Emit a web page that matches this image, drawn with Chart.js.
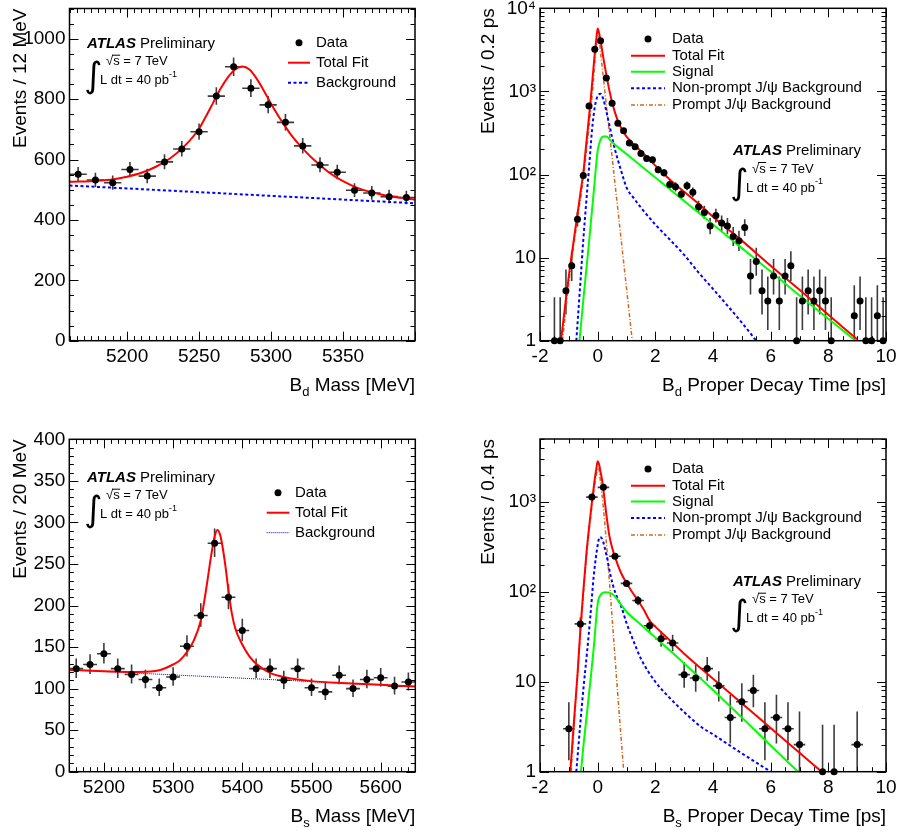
<!DOCTYPE html>
<html lang="en">
<head>
<meta charset="UTF-8">
<title>B meson mass and proper decay time fits</title>
<script src="https://cdn.jsdelivr.net/npm/chart.js@4"></script>
<style>
  html, body { margin: 0; padding: 0; background: #fff; }
  .page { position: relative; width: 900px; height: 834px; overflow: hidden; }
  .page canvas { position: absolute; }
</style>
</head>
<body>
<div class="page">
  <canvas id="bdMass" width="450" height="417" style="left:0;top:0"></canvas>
  <canvas id="bdTime" width="450" height="417" style="left:450px;top:0"></canvas>
  <canvas id="bsMass" width="450" height="417" style="left:0;top:417px"></canvas>
  <canvas id="bsTime" width="450" height="417" style="left:450px;top:417px"></canvas>
</div>
<script>
// ---- B_d mass, 12 MeV bins ----
const bdMassX = [5166,5178,5190,5202,5214,5226,5238,5250,5262,5274,5286,5298,5310,5322,5334,5346,5358,5370,5382,5394];
const bdMassN = [551,532,523,567,545,592,635,692,810,907,836,781,723,645,582,558,498,489,477,474];
const bdMassFitX = [5160,5180,5190,5200,5210,5220,5230,5240,5250,5255,5260,5265,5270,5275,5280,5285,5290,5295,5300,5305,5310,5315,5320,5330,5340,5350,5360,5375,5390,5400];
const bdMassFitY = [526,530,534,543,556,576,604,645,702,745,790,835,872,898,908,898,868,828,785,745,708,675,647,598,558,528,506,486,473,467];
const bdMassBkgX = [5160,5400];
const bdMassBkgY = [514,455];
const bdMassXTicks = [5200,5250,5300,5350];
const bdMassYTicks = [0,200,400,600,800,1000];

// ---- B_d proper decay time, 0.2 ps bins ----
const bdTimeX = [-1.5,-1.3,-1.1,-0.9,-0.7,-0.5,-0.3,-0.1,0.1,0.3,0.5,0.7,0.9,1.1,1.3,1.5,1.7,1.9,2.1,2.3,2.5,2.7,2.9,3.1,3.3,3.5,3.7,3.9,4.1,4.3,4.5,4.7,4.9,5.1,5.3,5.5,5.7,5.9,6.1,6.3,6.5,6.7,6.9,7.1,7.3,7.5,7.7,7.9,8.1,8.9,9.1,9.3,9.5,9.7,9.9];
const bdTimeN = [1,1,4,8,29,97,665,3220,4080,1450,720,414,336,240,216,179,156,150,114,105,76,71,58,73,61,41,35,24,32,26,24,18,16,23,6,9,4,3,6,3,6,8,1,3,4,3,4,3,1,2,3,1,1,2,1];
const bdTotX = [-1.27,-1.1,-0.95,-0.85,-0.72,-0.6,-0.49,-0.4,-0.3,-0.255,-0.2,-0.15,-0.1,-0.05,0,0.05,0.1,0.2,0.3,0.4,0.5,0.6,0.75,1.0,1.25,1.5,2.0,2.5,3.0,3.5,4.0,5.0,6.0,7.0,8.0,9.0];
const bdTotY = [1,3.2,8.2,14.4,30,59,111,226,498,710,1167,1833,2877,4170,5730,5000,4100,2500,1600,1050,740,560,400,285,232,192,128,87,62,44.5,31,16,8.0,4.1,2.05,1.04];
const bdSigX = [-0.63,-0.49,-0.31,-0.14,0,0.1,0.2,0.3,0.5,1.0,2.0,3.0,4.0,5.0,6.0,7.0,8.0,9.0];
const bdSigY = [1,3.3,14,60,193,262,287,286,244,176,92,48,25,13,6.8,3.5,1.84,0.96];
const bdNpX = [-0.74,-0.6,-0.5,-0.4,-0.3,-0.2,-0.1,0,0.1,0.2,0.3,0.4,0.5,0.6,0.8,1.0,1.25,1.5,2.0,2.5,3.0,3.5,4.0,4.5,5.0,5.5];
const bdNpY = [1,5,16,45,120,330,650,880,935,800,580,400,280,200,115,70,52,40,25,16.5,10.8,6.6,4.2,2.65,1.65,1.0];
const bdPrX = [-1.22,-1.0,-0.75,-0.5,-0.3,-0.15,-0.1,0,0.04,0.1,0.2,0.3,0.4,0.5,0.6,0.7,0.8,0.9,1.0,1.1,1.2];
const bdPrY = [1,5,22,90,370,1300,2200,4500,4550,2950,1430,692,334,162,78,38,18.3,8.9,4.3,2.07,1];
const bdTimeYTicks = [1,10,100,1000,10000];

// ---- B_s mass, 20 MeV bins ----
const bsMassX = [5160,5180,5200,5220,5240,5260,5280,5300,5320,5340,5360,5380,5400,5420,5440,5460,5480,5500,5520,5540,5560,5580,5600,5620,5640];
const bsMassN = [124,129,142,124,117,111,101,114,151,188,275,210,170,124,124,110,124,101,96,116,100,111,113,103,108];
const bsMassFitX = [5150,5200,5250,5280,5300,5310,5320,5330,5340,5345,5350,5355,5360,5364,5368,5372,5376,5380,5385,5390,5400,5410,5420,5440,5460,5500,5550,5600,5650];
const bsMassFitY = [122.5,121,120,122,129,134,144,158,182,205,232,260,283,291,285,268,245,218,190,172,153,139,130,119,114,109,106.5,104.5,102.5];
const bsMassBkgX = [5150,5650];
const bsMassBkgY = [122.5,102.5];
const bsMassXTicks = [5200,5300,5400,5500,5600];
const bsMassYTicks = [0,50,100,150,200,250,300,350,400];

// ---- B_s proper decay time, 0.4 ps bins ----
const bsTimeX = [-1.0,-0.6,-0.2,0.2,0.6,1.0,1.4,1.8,2.2,2.6,3.0,3.4,3.8,4.2,4.6,5.0,5.4,5.8,6.2,6.6,7.0,7.8,8.2,9.0];
const bsTimeN = [3,44,1130,1450,249,124,80,42,30,27,12,11,14,9,4,6,8,3,4,3,2,1,1,2];
const bsTotX = [-0.95,-0.8,-0.7,-0.6,-0.5,-0.4,-0.3,-0.2,-0.137,-0.1,-0.05,0,0.05,0.1,0.15,0.2,0.3,0.4,0.5,0.6,0.8,1.0,1.2,1.4,1.6,1.8,2.0,2.5,3.0,4.0,5.0,6.0,7.0,7.77];
const bsTotY = [1,4.5,12,38,100,245,515,990,1450,1800,2300,2830,2600,2150,1774,1350,730,430,310,245,165,125,99,80,63,48,41,29,20.5,10.8,5.75,3.06,1.62,1];
const bsSigX = [-0.58,-0.49,-0.37,-0.25,-0.137,0,0.1,0.27,0.5,1.0,1.5,2.0,3.0,4.0,5.0,6.0,6.95];
const bsSigY = [1,2.0,4.5,10.4,23.7,74,92,99,95,60,43,31,16,8.1,4.0,1.96,1];
const bsNpX = [-0.74,-0.6,-0.5,-0.37,-0.25,-0.137,0,0.07,0.15,0.3,0.45,0.6,0.85,1.0,1.25,1.5,2.0,2.5,3.0,3.58,4.0,5.0,6.0];
const bsNpY = [1,3.5,8,21,55,149,330,405,390,260,150,100,64,45,28,18,10,6.6,4.6,3.16,2.6,1.6,1.0];
const bsPrX = [-0.92,-0.8,-0.6,-0.4,-0.2,-0.1,0,0.03,0.1,0.2,0.3,0.4,0.5,0.6,0.7,0.8,0.9];
const bsPrY = [1,4,33,225,887,1565,2350,2400,1650,850,360,140,52,19,7,2.7,1.05];
const bsTimeYTicks = [1,10,100,1000];

const timeXTicks = [-2,0,2,4,6,8,10];

const FONT = '"Liberation Sans", Arial, Helvetica, sans-serif';
Chart.defaults.font.family = FONT;
Chart.defaults.color = '#000';

const RED = '#ff0000', GREEN = '#00ff00', BLUE = '#0000ff', ORANGE = '#d2691e';
const SUP = {'2': '\u00b2', '3': '\u00b3', '4': '\u2074'};

const pts = (xs, ys) => xs.map((x, i) => ({x: x, y: ys[i]}));

function dataSet(xs, ns, halfBin) {
  return { data: pts(xs, ns), errX: halfBin, showLine: false, pointRadius: 3.5,
           pointBackgroundColor: '#000', pointBorderColor: '#000', pointBorderWidth: 0, clip: false };
}
function curve(xs, ys, color, width, dash) {
  return { data: pts(xs, ys), showLine: true, pointRadius: 0, borderColor: color,
           borderWidth: width, borderDash: dash || [], cubicInterpolationMode: 'monotone', clip: 0 };
}

// vertical + horizontal error bars (Poisson 68% interval)
const errorBars = {
  id: 'errorBars',
  beforeDatasetsDraw(chart) {
    const {ctx, chartArea: a, scales: {x, y}} = chart;
    ctx.save();
    ctx.beginPath();
    ctx.rect(a.left, a.top, a.right - a.left, a.bottom - a.top);
    ctx.clip();
    ctx.strokeStyle = '#3c3c3c';
    ctx.lineWidth = 1.6;
    chart.data.datasets.forEach(ds => {
      if (!ds.errX) return;
      ds.data.forEach(p => {
        const n = p.y;
        const lo = Math.max(n - Math.sqrt(Math.max(n - 0.25, 0)), 1e-3);
        const hi = n + Math.sqrt(n + 0.75) + 1;
        const px = x.getPixelForValue(p.x), py = y.getPixelForValue(n);
        ctx.beginPath();
        ctx.moveTo(px, y.getPixelForValue(hi));
        ctx.lineTo(px, Math.min(y.getPixelForValue(lo), a.bottom + 5));
        ctx.moveTo(x.getPixelForValue(p.x - ds.errX), py);
        ctx.lineTo(x.getPixelForValue(p.x + ds.errX), py);
        ctx.stroke();
      });
    });
    ctx.restore();
  }
};

function linTicks(min, max, step, major) {
  const out = [];
  const n0 = Math.ceil(min / step - 1e-9), n1 = Math.floor(max / step + 1e-9);
  for (let i = n0; i <= n1; i++) {
    const v = i * step, r = v / major;
    out.push({v: v, major: Math.abs(r - Math.round(r)) < 1e-6});
  }
  return out;
}
function logTicks(min, max) {
  const out = [];
  for (let k = Math.floor(Math.log10(min)); k <= Math.ceil(Math.log10(max)); k++) {
    for (let m = 1; m < 10; m++) {
      const v = m * Math.pow(10, k);
      if (v >= min * 0.9999 && v <= max * 1.0001) out.push({v: v, major: m === 1});
    }
  }
  return out;
}

function drawLegendRow(ctx, lg, row) {
  if (row.kind === 'point') {
    ctx.fillStyle = '#000';
    ctx.beginPath();
    ctx.arc((lg.x0 + lg.x1) / 2, row.y, 3.5, 0, Math.PI * 2);
    ctx.fill();
  } else {
    ctx.save();
    ctx.strokeStyle = row.color;
    ctx.lineWidth = row.width;
    ctx.setLineDash(row.dash || []);
    ctx.beginPath();
    ctx.moveTo(lg.x0, row.y);
    ctx.lineTo(lg.x1, row.y);
    ctx.stroke();
    ctx.restore();
  }
  ctx.fillStyle = '#000';
  ctx.font = lg.size + 'px ' + FONT;
  ctx.textAlign = 'left';
  ctx.textBaseline = 'middle';
  ctx.fillText(row.label, lg.tx, row.y);
}

function drawAtlas(ctx, at) {
  ctx.fillStyle = '#000';
  ctx.textAlign = 'left';
  ctx.textBaseline = 'middle';
  ctx.font = 'italic bold 15px ' + FONT;
  ctx.fillText('ATLAS', at.x, at.y);
  const w = ctx.measureText('ATLAS ').width;
  ctx.font = '15px ' + FONT;
  ctx.fillText('Preliminary', at.x + w, at.y);
  // sqrt(s) line
  ctx.font = '13px ' + FONT;
  const sx = at.x + 19, sy = at.y + 18;
  ctx.fillText('\u221as = 7 TeV', sx, sy);
  const wr = ctx.measureText('\u221a').width, ws = ctx.measureText('s').width;
  ctx.lineWidth = 1;
  ctx.strokeStyle = '#000';
  ctx.beginPath();
  ctx.moveTo(sx + wr - 1, sy - 6.5);
  ctx.lineTo(sx + wr + ws + 0.5, sy - 6.5);
  ctx.stroke();
  // luminosity line
  const lx = at.x + 13, ly = at.y + 37;
  ctx.fillText('L dt = 40 pb', lx, ly);
  const wl = ctx.measureText('L dt = 40 pb').width;
  ctx.font = '9px ' + FONT;
  ctx.fillText('-1', lx + wl, ly - 6);
  ctx.font = '35px "DejaVu Sans", ' + FONT;
  ctx.fillText('\u222b', at.x - 3, ly - 3);
}

function drawXTitle(ctx, a, t) {
  ctx.fillStyle = '#000';
  ctx.textBaseline = 'alphabetic';
  ctx.textAlign = 'left';
  ctx.font = '19px ' + FONT;
  const wB = ctx.measureText('B').width, wR = ctx.measureText(t.rest).width;
  ctx.font = '13px ' + FONT;
  const wS = ctx.measureText(t.sub).width;
  const x0 = a.right - wB - wS - wR, y0 = a.bottom + 50;
  ctx.font = '19px ' + FONT;
  ctx.fillText('B', x0, y0);
  ctx.fillText(t.rest, x0 + wB + wS, y0);
  ctx.font = '13px ' + FONT;
  ctx.fillText(t.sub, x0 + wB, y0 + 5);
}

function panel(id, o) {
  const decor = {
    id: 'decor',
    afterDraw(chart) {
      const {ctx, chartArea: a, scales: {x, y}} = chart;
      ctx.save();
      // inward ticks on all four sides
      ctx.strokeStyle = '#000';
      ctx.lineWidth = 1;
      ctx.beginPath();
      o.xMarks.forEach(t => {
        const px = Math.round(x.getPixelForValue(t.v)) + 0.5, L = t.major ? 9 : 4.5;
        ctx.moveTo(px, a.bottom); ctx.lineTo(px, a.bottom - L);
        ctx.moveTo(px, a.top); ctx.lineTo(px, a.top + L);
      });
      o.yMarks.forEach(t => {
        const py = Math.round(y.getPixelForValue(t.v)) + 0.5, L = t.major ? 9 : 4.5;
        ctx.moveTo(a.left, py); ctx.lineTo(a.left + L, py);
        ctx.moveTo(a.right, py); ctx.lineTo(a.right - L, py);
      });
      ctx.stroke();
      ctx.lineWidth = 1.5;
      ctx.strokeRect(a.left, a.top, a.right - a.left, a.bottom - a.top);
      drawAtlas(ctx, o.atlas);
      o.legend.rows.forEach(r => drawLegendRow(ctx, o.legend, r));
      drawXTitle(ctx, a, o.xTitle);
      ctx.restore();
    }
  };
  return new Chart(document.getElementById(id), {
    type: 'scatter',
    data: { datasets: o.datasets },
    options: {
      responsive: false,
      animation: false,
      events: [],
      layout: { padding: o.pad },
      plugins: { legend: { display: false }, tooltip: { enabled: false } },
      scales: {
        x: {
          type: 'linear', min: o.xMin, max: o.xMax,
          grid: { display: false, drawTicks: false }, border: { display: false },
          ticks: { font: { size: 19 }, color: '#000', padding: 5, maxRotation: 0, autoSkip: false,
                   callback: v => String(v) },
          afterBuildTicks: s => { s.ticks = o.xTicks.map(v => ({value: v})); },
          afterFit: s => { s.height = o.xH; s.paddingLeft = 0; s.paddingRight = 0; }
        },
        y: {
          type: o.yLog ? 'logarithmic' : 'linear', min: o.yMin, max: o.yMax,
          grid: { display: false, drawTicks: false }, border: { display: false },
          ticks: { font: { size: 19 }, color: '#000', padding: 4, autoSkip: false,
                   callback: v => {
                     if (!o.yLog || v < 100) return String(v);
                     const k = String(Math.round(Math.log10(v)));
                     return '10' + SUP[k];
                   } },
          title: { display: true, text: o.yTitle, align: 'end', color: '#000',
                   font: { size: 19 }, padding: { top: o.yTitlePad, bottom: 0 } },
          afterBuildTicks: s => { s.ticks = o.yTicks.map(v => ({value: v})); },
          afterFit: s => { s.width = o.yW; s.paddingTop = 0; s.paddingBottom = 0; }
        }
      }
    },
    plugins: [errorBars, decor]
  });
}

const massLegend = (x0, x1, tx, ys) => ({
  x0: x0, x1: x1, tx: tx, size: 15,
  rows: [
    { y: ys[0], kind: 'point', label: 'Data' },
    { y: ys[1], kind: 'line', color: RED, width: 2, label: 'Total Fit' },
    { y: ys[2], kind: 'line', color: BLUE, width: ys.thin ? 1 : 2, dash: ys.thin ? [1, 1] : [3, 2.5], label: 'Background' }
  ]
});
const timeLegend = ys => ({
  x0: 181, x1: 215, tx: 222, size: 15,
  rows: [
    { y: ys[0], kind: 'point', label: 'Data' },
    { y: ys[1], kind: 'line', color: RED, width: 2, label: 'Total Fit' },
    { y: ys[2], kind: 'line', color: GREEN, width: 2, label: 'Signal' },
    { y: ys[3], kind: 'line', color: BLUE, width: 2, dash: [3, 2.5], label: 'Non-prompt J/\u03c8 Background' },
    { y: ys[4], kind: 'line', color: ORANGE, width: 1.5, dash: [4, 2, 1, 2], label: 'Prompt J/\u03c8 Background' }
  ]
});

panel('bdMass', {
  pad: { left: 0, top: 8.5, right: 35, bottom: 0 }, yW: 69.5, xH: 76.3,
  xMin: 5160, xMax: 5400, yMin: 0, yMax: 1100, yLog: false,
  xTicks: bdMassXTicks, yTicks: bdMassYTicks,
  xMarks: linTicks(5160, 5400, 5, 50), yMarks: linTicks(0, 1100, 50, 200),
  yTitle: 'Events / 12 MeV', yTitlePad: 9,
  xTitle: { sub: 'd', rest: ' Mass [MeV]' },
  atlas: { x: 87, y: 43.7 },
  legend: massLegend(288, 310, 316, [42.7, 62.7, 82.7]),
  datasets: [
    dataSet(bdMassX, bdMassN, 6),
    curve(bdMassFitX, bdMassFitY, RED, 2),
    curve(bdMassBkgX, bdMassBkgY, BLUE, 2, [3, 2.5])
  ]
});

panel('bdTime', {
  pad: { left: 0, top: 8.3, right: 14, bottom: 0 }, yW: 90, xH: 76.3,
  xMin: -2, xMax: 10, yMin: 1, yMax: 10000, yLog: true,
  xTicks: timeXTicks, yTicks: bdTimeYTicks,
  xMarks: linTicks(-2, 10, 0.5, 2), yMarks: logTicks(1, 10000),
  yTitle: 'Events / 0.2 ps', yTitlePad: 27,
  xTitle: { sub: 'd', rest: ' Proper Decay Time [ps]' },
  atlas: { x: 283, y: 151 },
  legend: timeLegend([39, 55.7, 71.7, 88.3, 105]),
  datasets: [
    dataSet(bdTimeX, bdTimeN, 0.1),
    curve(bdTotX, bdTotY, RED, 2),
    curve(bdSigX, bdSigY, GREEN, 2),
    curve(bdNpX, bdNpY, BLUE, 2, [3, 2.5]),
    curve(bdPrX, bdPrY, ORANGE, 1.5, [4, 2, 1, 2])
  ]
});

const bsBkgRows = [75.7, 95.7, 115.7];
bsBkgRows.thin = true;
panel('bsMass', {
  pad: { left: 0, top: 22.3, right: 34.7, bottom: 0 }, yW: 69.3, xH: 62.3,
  xMin: 5150, xMax: 5650, yMin: 0, yMax: 400, yLog: false,
  xTicks: bsMassXTicks, yTicks: bsMassYTicks,
  xMarks: linTicks(5150, 5650, 10, 100), yMarks: linTicks(0, 400, 10, 50),
  yTitle: 'Events / 20 MeV', yTitlePad: 9,
  xTitle: { sub: 's', rest: ' Mass [MeV]' },
  atlas: { x: 87, y: 60.7 },
  legend: massLegend(266.7, 289.3, 295, bsBkgRows),
  datasets: [
    dataSet(bsMassX, bsMassN, 10),
    curve(bsMassFitX, bsMassFitY, RED, 2),
    curve(bsMassBkgX, bsMassBkgY, BLUE, 1, [1, 1])
  ]
});

panel('bsTime', {
  pad: { left: 0, top: 22, right: 14, bottom: 0 }, yW: 90, xH: 62.3,
  xMin: -2, xMax: 10, yMin: 1, yMax: 5000, yLog: true,
  xTicks: timeXTicks, yTicks: bsTimeYTicks,
  xMarks: linTicks(-2, 10, 0.5, 2), yMarks: logTicks(1, 5000),
  yTitle: 'Events / 0.4 ps', yTitlePad: 27,
  xTitle: { sub: 's', rest: ' Proper Decay Time [ps]' },
  atlas: { x: 283, y: 164.7 },
  legend: timeLegend([52, 68.7, 84.5, 101, 118]),
  datasets: [
    dataSet(bsTimeX, bsTimeN, 0.2),
    curve(bsTotX, bsTotY, RED, 2),
    curve(bsSigX, bsSigY, GREEN, 2),
    curve(bsNpX, bsNpY, BLUE, 2, [3, 2.5]),
    curve(bsPrX, bsPrY, ORANGE, 1.5, [4, 2, 1, 2])
  ]
});
</script>
</body>
</html>
